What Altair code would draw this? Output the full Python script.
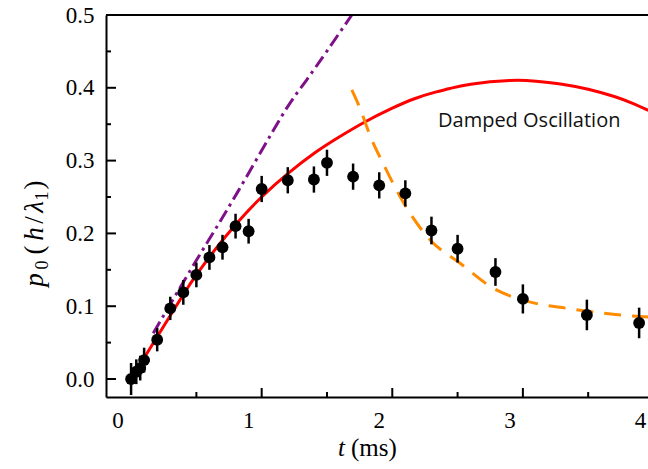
import altair as alt
import pandas as pd

# ---- measured data: momentum p0 (h/lambda1) versus time t (ms) ----
t_pts = [0.00, 0.04, 0.07, 0.10, 0.20, 0.30, 0.40, 0.50, 0.60, 0.70, 0.80, 0.90,
         1.00, 1.20, 1.40, 1.50, 1.70, 1.90, 2.10, 2.30, 2.50, 2.79, 3.00, 3.49, 3.89]
p_pts = [0.000, 0.010, 0.015, 0.026, 0.054, 0.097, 0.119, 0.143, 0.167, 0.181, 0.210, 0.203,
         0.261, 0.273, 0.274, 0.297, 0.278, 0.266, 0.255, 0.204, 0.179, 0.147, 0.110, 0.088, 0.077]
p_err = [0.022, 0.017, 0.017, 0.017, 0.016, 0.016, 0.017, 0.017, 0.017, 0.017, 0.017, 0.017,
         0.018, 0.018, 0.018, 0.018, 0.018, 0.018, 0.018, 0.019, 0.019, 0.019, 0.020, 0.021, 0.021]

# damped-oscillation model (solid red)
t_damped = [0.00, 0.20, 0.40, 0.50, 0.64, 0.82, 1.00, 1.20, 1.41, 1.59, 1.79,
            2.00, 2.17, 2.33, 2.44, 2.60, 2.90, 3.10, 3.30, 3.50, 3.70, 3.85, 3.96]
p_damped = [0.000, 0.058, 0.116, 0.143, 0.177, 0.216, 0.250, 0.282, 0.311, 0.332, 0.353,
            0.372, 0.385, 0.394, 0.399, 0.405, 0.410, 0.409, 0.405, 0.398, 0.388, 0.378, 0.369]

# linear free-acceleration regime (purple dash-dot)
t_linear = [0.17, 0.50, 0.81, 1.15, 1.345, 1.69]
p_linear = [0.063, 0.163, 0.255, 0.360, 0.411, 0.500]

# late-time relaxation (orange dashed)
t_decay = [1.69, 1.75, 1.84, 1.93, 2.09, 2.29, 2.52, 2.77, 3.05, 3.34, 3.69, 3.96]
p_decay = [0.397, 0.373, 0.330, 0.296, 0.241, 0.191, 0.159, 0.125, 0.106, 0.097, 0.089, 0.085]

# axis ticks and labels
y_major = [0.0, 0.1, 0.2, 0.3, 0.4, 0.5]
y_minor = [0.05, 0.15, 0.25, 0.35, 0.45]
x_major = [1, 2, 3]
x_minor = [0.5, 1.5, 2.5, 3.5]
x_labels = [0, 1, 2, 3, 4]

W, H = 542, 382
SERIF = "Times New Roman, Liberation Serif, serif"

pts = pd.DataFrame({
    "t": t_pts, "p": p_pts,
    "lo": [p - e for p, e in zip(p_pts, p_err)],
    "hi": [p + e for p, e in zip(p_pts, p_err)],
})
damped = pd.DataFrame({"t": t_damped, "p": p_damped})
linear = pd.DataFrame({"t": t_linear, "p": p_linear})
decay = pd.DataFrame({"t": t_decay, "p": p_decay})

x_scale = alt.Scale(domain=[-0.192, 3.958], nice=False, zero=False)
y_scale = alt.Scale(domain=[-0.0247, 0.5], nice=False, zero=False)

x_axis = alt.Axis(title=None, labels=False, ticks=False, grid=False,
                  domainColor="black", domainWidth=2)
y_axis = alt.Axis(title=None, values=y_major, format=".1f", ticks=False, grid=False,
                  labelFont=SERIF, labelFontSize=23, labelColor="black", labelPadding=12,
                  domainColor="black", domainWidth=2)

X = alt.X("t:Q", scale=x_scale, axis=x_axis)
Y = alt.Y("p:Q", scale=y_scale, axis=y_axis)

purple = alt.Chart(linear).mark_line(
    color="#7E1088", strokeWidth=3, strokeDash=[13, 5, 3, 5], interpolate="natural"
).encode(x=X, y=Y)

red = alt.Chart(damped).mark_line(
    color="#FF0000", strokeWidth=3, interpolate="natural"
).encode(x=X, y=Y)

orange = alt.Chart(decay).mark_line(
    color="#FF8C00", strokeWidth=3, strokeDash=[17, 11], interpolate="monotone"
).encode(x=X, y=Y)

errbars = alt.Chart(pts).mark_rule(color="black", strokeWidth=2.5).encode(
    x=X, y=alt.Y("lo:Q", scale=y_scale, axis=y_axis), y2="hi:Q"
)
dots = alt.Chart(pts).mark_circle(size=140, color="black", opacity=1).encode(x=X, y=Y)

# inward tick marks
ym = alt.Chart(pd.DataFrame({"p": y_major})).mark_rule(color="black", strokeWidth=2).encode(
    y=Y, x=alt.value(0), x2=alt.value(10))
yn = alt.Chart(pd.DataFrame({"p": y_minor})).mark_rule(color="black", strokeWidth=2).encode(
    y=Y, x=alt.value(0), x2=alt.value(5))
xm = alt.Chart(pd.DataFrame({"t": x_major})).mark_rule(color="black", strokeWidth=2).encode(
    x=X, y=alt.value(H), y2=alt.value(H - 9))
xn = alt.Chart(pd.DataFrame({"t": x_minor})).mark_rule(color="black", strokeWidth=2).encode(
    x=X, y=alt.value(H), y2=alt.value(H - 5))

# top frame line
top = alt.Chart(pd.DataFrame({"t": [0]})).mark_rule(color="black", strokeWidth=2).encode(
    x=alt.value(0), x2=alt.value(W), y=alt.value(0))

# x tick labels
xlab = alt.Chart(pd.DataFrame({"t": x_labels, "lab": [str(v) for v in x_labels]})).mark_text(
    font=SERIF, fontSize=23, color="black", baseline="alphabetic", align="center", dx=-13
).encode(x=X, y=alt.value(413), text="lab:N")

# x title: italic t followed by upright unit
xt1 = alt.Chart(pd.DataFrame({"s": ["t"]})).mark_text(
    font=SERIF, fontSize=25, fontStyle="italic", color="black", align="right", baseline="alphabetic"
).encode(x=alt.value(239), y=alt.value(441), text="s:N")
xt2 = alt.Chart(pd.DataFrame({"s": ["(ms)"]})).mark_text(
    font=SERIF, fontSize=25, color="black", align="left", baseline="alphabetic"
).encode(x=alt.value(245), y=alt.value(441), text="s:N")

# y title pieces, rotated to read upward: p_0 (h/lambda_1)
y_title_parts = [
    (")", 185, "normal", 27, 43),
    ("1", 196, "normal", 18, 48),
    ("λ", 207, "italic", 27, 43),
    ("/", 220, "normal", 27, 43),
    ("h", 234, "italic", 27, 43),
    ("(", 250, "normal", 27, 43),
    ("0", 265, "normal", 18, 48),
    ("p", 280, "italic", 27, 43),
]
ytitle_layers = []
for s, cy, style, size, bx in y_title_parts:
    ytitle_layers.append(
        alt.Chart(pd.DataFrame({"s": [s]})).mark_text(
            font=SERIF, fontSize=size, fontStyle=style, color="black",
            angle=270, align="center", baseline="alphabetic"
        ).encode(x=alt.value(bx - 106), y=alt.value(cy - 15), text="s:N")
    )

note = alt.Chart(pd.DataFrame({"s": ["Damped Oscillation"]})).mark_text(
    font="Open Sans", fontSize=20, color="#111111", align="left", baseline="alphabetic"
).encode(x=alt.value(332), y=alt.value(112), text="s:N")

chart = alt.layer(
    purple, red, orange, errbars, dots, ym, yn, xm, xn, top, xlab, xt1, xt2, note, *ytitle_layers
).properties(
    width=W, height=H,
    padding={"left": 106, "top": 15, "right": 0, "bottom": 72},
    autosize=alt.AutoSizeParams(type="none"),
).configure_view(stroke=None)

chart.save("out.html", embed_options={"renderer": "svg", "actions": False})
